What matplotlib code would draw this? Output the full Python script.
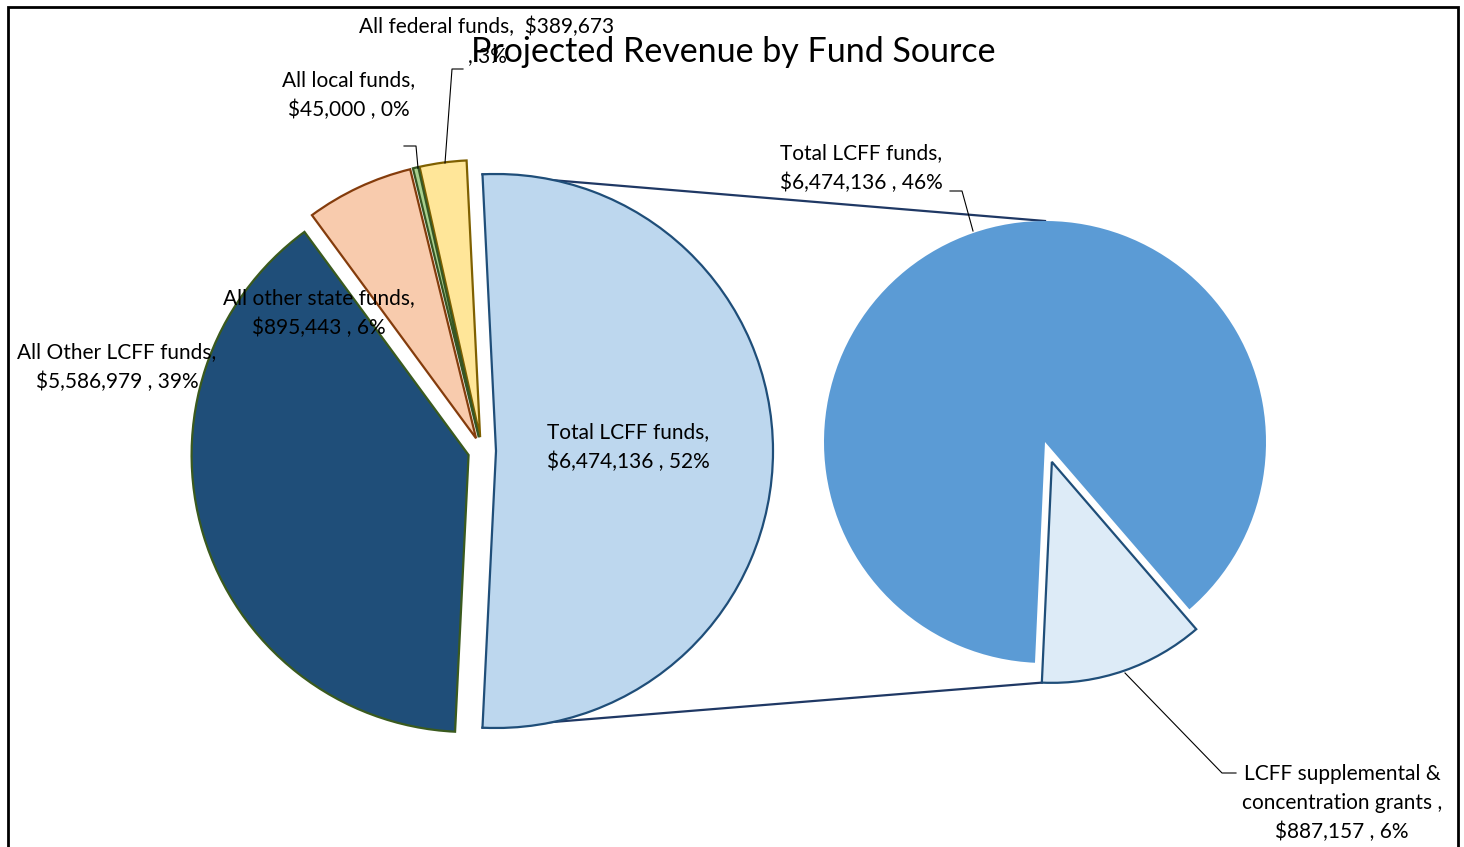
import matplotlib
matplotlib.use('Agg')
import matplotlib.pyplot as plt
from matplotlib.patches import Rectangle
import numpy as np

W, H = 1464, 847

# left pie: remaining sources, drawn counter-clockwise after the combined LCFF slice
main_names = ['All federal funds', 'All local funds', 'All other state funds', 'All Other LCFF funds']
main_values = [389673, 45000, 895443, 5586979]
main_colors = ['#FFE699', '#A9D08E', '#F8CBAD', '#1F4E79']
main_edges = ['#7F6000', '#375623', '#843C0C', '#3A5A1E']

# right pie: breakdown of Total LCFF funds
lcff_names = ['LCFF supplemental & concentration grants', 'Total LCFF funds']
lcff_values = [887157, 6474136]

plt.rcParams['font.family'] = ['Lato', 'DejaVu Sans']


def Y(py):
    # image pixel row -> data y
    return H - py


fig = plt.figure(figsize=(14.64, 8.47), dpi=100)
ax = fig.add_axes([0, 0, 1, 1])

other = sum(lcff_values)
left_vals = [other] + main_values
frac_other = other / sum(left_vals)

# explode is an absolute offset here (data units = pixels)
wl, _ = ax.pie(left_vals, colors=['#BDD7EE'] + main_colors,
               startangle=-180 * frac_other, radius=277, center=(482, Y(451)),
               explode=[14] * 5, frame=True, wedgeprops=dict(linewidth=1.6))
for w, ec in zip(wl, ['#1F4E79'] + main_edges):
    w.set_edgecolor(ec)

wr, _ = ax.pie(lcff_values, colors=['#DDEBF7', '#5B9BD5'],
               startangle=-92.6, radius=221, center=(1045, Y(442)),
               explode=[21, 0], frame=True, wedgeprops=dict(linewidth=0))
wr[0].set_edgecolor('#1F4E79')
wr[0].set_linewidth(1.6)


def edge_point(w, ang):
    t = np.deg2rad(ang)
    return w.center[0] + w.r * np.cos(t), w.center[1] + w.r * np.sin(t)


# connector lines between the two pies
p1 = edge_point(wl[0], wl[0].theta2)
p2 = edge_point(wl[0], wl[0].theta1)
q1 = (wr[1].center[0], wr[1].center[1] + wr[1].r)
q2 = edge_point(wr[0], wr[0].theta1)
ax.plot([p1[0], q1[0]], [p1[1], q1[1]], color='#1F3864', lw=1.6, zorder=0)
ax.plot([p2[0], q2[0]], [p2[1], q2[1]], color='#1F3864', lw=1.6, zorder=0)

# data labels
fs = 15
ls = 1.56
ax.text(628, Y(447), 'Total LCFF funds,\n$6,474,136 , 52%', ha='center', va='center', fontsize=fs, linespacing=ls)
ax.text(117, Y(367), 'All Other LCFF funds,\n$5,586,979 , 39%', ha='center', va='center', fontsize=fs, linespacing=ls)
ax.text(319, Y(313), 'All other state funds,\n$895,443 , 6%', ha='center', va='center', fontsize=fs, linespacing=ls)
ax.text(349, Y(95), 'All local funds,\n$45,000 , 0%', ha='center', va='center', fontsize=fs, linespacing=ls)
ax.text(487, Y(41), 'All federal funds,  $389,673\n, 3%', ha='center', va='center', fontsize=fs, linespacing=ls)
ax.text(861, Y(168), 'Total LCFF funds,\n$6,474,136 , 46%', ha='center', va='center', fontsize=fs, linespacing=ls)
ax.text(1342, Y(803), 'LCFF supplemental &\nconcentration grants ,\n$887,157 , 6%', ha='center', va='center', fontsize=fs, linespacing=ls)

# leader lines
lk = dict(color='black', lw=0.8)
ax.plot([404, 416, 418], [Y(146), Y(146), Y(168)], **lk)
ax.plot([463, 452, 445], [Y(69), Y(69), Y(163)], **lk)
ax.plot([950, 962, 973], [Y(191), Y(191), Y(231)], **lk)
ax.plot([1125, 1222, 1236], [Y(673), Y(773), Y(773)], **lk)

ax.text(733, Y(52), 'Projected Revenue by Fund Source', ha='center', va='center', fontsize=24.5)

# chart border
ax.add_patch(Rectangle((8, Y(900)), 1450, 893, fill=False, lw=2, ec='black'))

ax.set_xlim(0, W)
ax.set_ylim(0, H)
ax.set_aspect('equal')
ax.axis('off')

fig.savefig('out.png', dpi=100)
